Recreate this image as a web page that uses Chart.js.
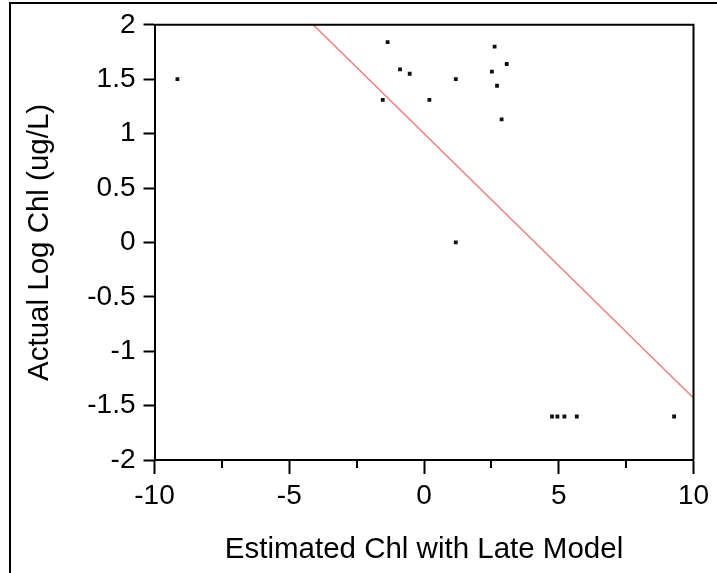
<!DOCTYPE html>
<html>
<head>
<meta charset="utf-8">
<script src="https://cdn.jsdelivr.net/npm/chart.js@4/dist/chart.umd.min.js"></script>
<style>
  html, body { margin: 0; padding: 0; background: #fff; }
  #wrap { width: 717px; height: 573px; position: relative; }
</style>
</head>
<body>
<div id="wrap"><canvas id="c" width="717" height="573"></canvas></div>
<script>
// ---- data ----
const estimatedChl = [-9.15, -1.35, -0.89, -0.53, -1.53, 0.20, 1.18, 2.62, 3.07, 2.52, 2.71, 2.88, 1.18, 4.75, 4.95, 5.21, 5.67, 9.28];
const actualLogChl = [1.50, 1.84, 1.59, 1.55, 1.31, 1.31, 1.50, 1.80, 1.64, 1.57, 1.44, 1.13, 0.00, -1.60, -1.60, -1.60, -1.60, -1.60];
const fitLineX = [-4.11, 10];
const fitLineY = [2, -1.43];
const xTickValues = [-10, -5, 0, 5, 10];
const xTickLabels = ['-10', '-5', '0', '5', '10'];
const xMinorTicks = [-7.5, -2.5, 2.5, 7.5];
const yTickValues = [-2, -1.5, -1, -0.5, 0, 0.5, 1, 1.5, 2];
const yTickLabels = ['-2', '-1.5', '-1', '-0.5', '0', '0.5', '1', '1.5', '2'];
const xTitle = 'Estimated Chl with Late Model';
const yTitle = 'Actual Log Chl (ug/L)';

const FONT = '"Liberation Sans", Arial, sans-serif';

const framePlugin = {
  id: 'frame',
  beforeDraw(chart) {
    const ctx = chart.ctx;
    ctx.save();
    ctx.fillStyle = '#000';
    ctx.fillRect(9, 2, 2, 571);
    ctx.fillRect(9, 2, 708, 2);
    ctx.restore();
  },
  afterDraw(chart) {
    const ctx = chart.ctx;
    const a = chart.chartArea;
    const xs = chart.scales.x;
    ctx.save();
    ctx.strokeStyle = '#000';
    ctx.lineWidth = 2;
    ctx.beginPath();
    ctx.moveTo(a.left, a.top);
    ctx.lineTo(a.right, a.top);
    ctx.lineTo(a.right, a.bottom);
    ctx.stroke();
    ctx.beginPath();
    xMinorTicks.forEach(v => {
      const px = Math.round(xs.getPixelForValue(v));
      ctx.moveTo(px, a.bottom);
      ctx.lineTo(px, a.bottom + 8);
    });
    ctx.stroke();
    ctx.restore();
  }
};

new Chart(document.getElementById('c'), {
  type: 'scatter',
  data: {
    datasets: [
      {
        type: 'line',
        data: fitLineX.map((x, i) => ({ x: x, y: fitLineY[i] })),
        borderColor: '#f27c7c',
        borderWidth: 1.5,
        pointRadius: 0,
        fill: false,
        order: 2
      },
      {
        data: estimatedChl.map((x, i) => ({ x: x, y: actualLogChl[i] })),
        backgroundColor: '#111',
        borderColor: '#111',
        borderWidth: 0,
        pointStyle: 'rect',
        pointRadius: 2.7,
        order: 1
      }
    ]
  },
  plugins: [framePlugin],
  options: {
    responsive: false,
    devicePixelRatio: 1,
    animation: false,
    layout: { padding: { top: 23, right: 23.5, left: 0, bottom: 0 } },
    plugins: { legend: { display: false }, tooltip: { enabled: false } },
    scales: {
      x: {
        type: 'linear',
        min: -10, max: 10,
        afterBuildTicks: s => { s.ticks = xTickValues.map(v => ({ value: v })); },
        afterFit: s => { s.height = 113; },
        border: { color: '#000', width: 2 },
        grid: { drawOnChartArea: false, color: '#000', tickLength: 14, tickWidth: 2 },
        ticks: {
          color: '#000',
          padding: 5,
          maxRotation: 0,
          autoSkip: false,
          font: { family: FONT, size: 28 },
          callback: v => xTickLabels[xTickValues.indexOf(v)]
        },
        title: {
          display: true, text: xTitle, color: '#000',
          font: { family: FONT, size: 29.5 },
          padding: { top: 0, bottom: 5 }
        }
      },
      y: {
        type: 'linear',
        min: -2, max: 2,
        afterBuildTicks: s => { s.ticks = yTickValues.map(v => ({ value: v })); },
        afterFit: s => { s.width = 154.5; },
        border: { color: '#000', width: 2 },
        grid: { drawOnChartArea: false, color: '#000', tickLength: 11, tickWidth: 2 },
        ticks: {
          color: '#000',
          padding: 8,
          autoSkip: false,
          font: { family: FONT, size: 28 },
          callback: v => yTickLabels[yTickValues.indexOf(v)]
        },
        title: {
          display: true, text: yTitle, color: '#000',
          font: { family: FONT, size: 29.5 },
          padding: { top: 22, bottom: 0 }
        }
      }
    }
  }
});
</script>
</body>
</html>
